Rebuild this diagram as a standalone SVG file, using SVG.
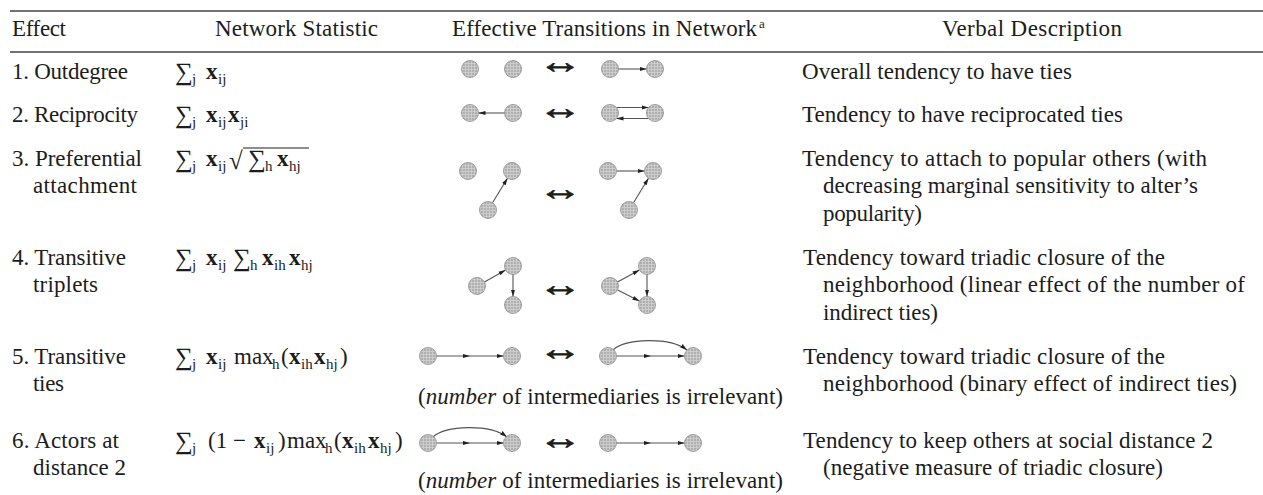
<svg xmlns="http://www.w3.org/2000/svg" width="1263" height="495" viewBox="0 0 1263 495">
<style>
.t{font-family:"Liberation Serif","Times New Roman","DejaVu Serif",serif;font-size:23px;fill:#1c1c1c}
.s{font-size:15px}
.b{font-weight:bold}
.i{font-style:italic}
.sg{font-size:25px}
.sup{font-size:13px}
.arr{font-family:"Liberation Serif","DejaVu Serif",serif;font-size:34px;fill:#1c1c1c;stroke:#1c1c1c;stroke-width:0.7}
.rule{stroke:#444;stroke-width:1.6}
.nd{fill:url(#grid);stroke:#8c8c8c;stroke-width:0.8}
.e{fill:none;stroke:#555;stroke-width:1.1;marker-end:url(#ah)}
.em{fill:none;stroke:#555;stroke-width:1.1;marker-mid:url(#ah);marker-end:url(#ah)}
</style>
<defs>
<pattern id="grid" width="3" height="3" patternUnits="userSpaceOnUse">
<rect width="3" height="3" fill="#b0b0b0"/>
<path d="M0,0.5H3M0.5,0V3" stroke="#d6d6d6" stroke-width="0.7"/>
</pattern>
<marker id="ah" viewBox="0 0 10 10" refX="10" refY="5" markerWidth="7" markerHeight="7" markerUnits="userSpaceOnUse" orient="auto">
<path d="M0,2 L10,5 L0,8 z" fill="#222"/>
</marker>
</defs>
<rect width="1263" height="495" fill="#fff"/>

<g id="rules">
<line class="rule" x1="10" y1="11" x2="1263" y2="11"/>
<line class="rule" x1="10" y1="52" x2="1263" y2="52"/>
</g>

<g id="header">
<text class="t" x="12" y="36" textLength="54" lengthAdjust="spacing">Effect</text>
<text class="t" x="215" y="36" textLength="163" lengthAdjust="spacing">Network Statistic</text>
<text class="t" x="452" y="36" textLength="305" lengthAdjust="spacing">Effective Transitions in Network</text>
<text class="t sup" x="759" y="28">a</text>
<text class="t" x="942" y="36" textLength="180" lengthAdjust="spacing">Verbal Description</text>
</g>

<g id="effects">
<text class="t" x="12" y="79" textLength="116" lengthAdjust="spacing">1. Outdegree</text>
<text class="t" x="12" y="122" textLength="126" lengthAdjust="spacing">2. Reciprocity</text>
<text class="t" x="12" y="166" textLength="130" lengthAdjust="spacing">3. Preferential</text>
<text class="t" x="33" y="193" textLength="104" lengthAdjust="spacing">attachment</text>
<text class="t" x="12" y="265" textLength="114" lengthAdjust="spacing">4. Transitive</text>
<text class="t" x="33" y="292" textLength="65" lengthAdjust="spacing">triplets</text>
<text class="t" x="12" y="364" textLength="114" lengthAdjust="spacing">5. Transitive</text>
<text class="t" x="33" y="391" textLength="31" lengthAdjust="spacing">ties</text>
<text class="t" x="12" y="448" textLength="107" lengthAdjust="spacing">6. Actors at</text>
<text class="t" x="33" y="475" textLength="93" lengthAdjust="spacing">distance 2</text>
</g>

<g id="statistics">
<text class="t"><tspan class="sg" x="175" y="80">∑</tspan><tspan class="s" x="192" y="84">j</tspan><tspan class="b" x="206" y="79">x</tspan><tspan class="s" x="218" y="84">ij</tspan></text>
<text class="t"><tspan class="sg" x="175" y="123">∑</tspan><tspan class="s" x="192" y="127">j</tspan><tspan class="b" x="206" y="122">x</tspan><tspan class="s" x="218" y="127">ij</tspan><tspan class="b" x="228" y="122">x</tspan><tspan class="s" x="240" y="127">ji</tspan></text>
<text class="t"><tspan class="sg" x="175" y="167">∑</tspan><tspan class="s" x="192" y="171">j</tspan><tspan class="b" x="206" y="166">x</tspan><tspan class="s" x="218" y="171">ij</tspan><tspan class="sg" x="229" y="169">√</tspan><tspan class="sg" x="248" y="167">∑</tspan><tspan class="s" x="265" y="171">h</tspan><tspan class="b" x="277" y="166">x</tspan><tspan class="s" x="289" y="171">hj</tspan></text>
<line x1="243" y1="148" x2="309" y2="148" stroke="#1c1c1c" stroke-width="1"/>
<text class="t"><tspan class="sg" x="175" y="266">∑</tspan><tspan class="s" x="192" y="270">j</tspan><tspan class="b" x="206" y="265">x</tspan><tspan class="s" x="218" y="270">ij</tspan><tspan class="sg" x="233" y="266">∑</tspan><tspan class="s" x="250" y="270">h</tspan><tspan class="b" x="262" y="265">x</tspan><tspan class="s" x="274" y="270">ih</tspan><tspan class="b" x="289" y="265">x</tspan><tspan class="s" x="301" y="270">hj</tspan></text>
<text class="t"><tspan class="sg" x="175" y="365">∑</tspan><tspan class="s" x="192" y="369">j</tspan><tspan class="b" x="206" y="364">x</tspan><tspan class="s" x="218" y="369">ij</tspan><tspan x="234" y="364">max</tspan><tspan class="s" x="272" y="369">h</tspan><tspan x="281" y="364">(</tspan><tspan class="b" x="289" y="364">x</tspan><tspan class="s" x="301" y="369">ih</tspan><tspan class="b" x="314" y="364">x</tspan><tspan class="s" x="326" y="369">hj</tspan><tspan x="340" y="364">)</tspan></text>
<text class="t"><tspan class="sg" x="175" y="449">∑</tspan><tspan class="s" x="192" y="453">j</tspan><tspan x="208" y="448">(1</tspan><tspan x="233" y="448">−</tspan><tspan class="b" x="254" y="448">x</tspan><tspan class="s" x="266" y="453">ij</tspan><tspan x="278" y="448">)</tspan><tspan x="287" y="448">max</tspan><tspan class="s" x="325" y="453">h</tspan><tspan x="334" y="448">(</tspan><tspan class="b" x="342" y="448">x</tspan><tspan class="s" x="354" y="453">ih</tspan><tspan class="b" x="368" y="448">x</tspan><tspan class="s" x="380" y="453">hj</tspan><tspan x="395" y="448">)</tspan></text>
</g>

<g id="transition-arrows">
<text class="arr" transform="translate(560,72.5) scale(1.3,1)" text-anchor="middle">↔</text>
<text class="arr" transform="translate(560,118.5) scale(1.3,1)" text-anchor="middle">↔</text>
<text class="arr" transform="translate(560,199.5) scale(1.3,1)" text-anchor="middle">↔</text>
<text class="arr" transform="translate(560,295.5) scale(1.3,1)" text-anchor="middle">↔</text>
<text class="arr" transform="translate(560,359.5) scale(1.3,1)" text-anchor="middle">↔</text>
<text class="arr" transform="translate(560,448.5) scale(1.3,1)" text-anchor="middle">↔</text>
</g>

<g id="notes">
<text class="t" x="418" y="404" textLength="365" lengthAdjust="spacing">(<tspan class="i">number</tspan> of intermediaries is irrelevant)</text>
<text class="t" x="418" y="488" textLength="365" lengthAdjust="spacing">(<tspan class="i">number</tspan> of intermediaries is irrelevant)</text>
</g>

<g id="connectors">
<line class="e" x1="618.5" y1="69" x2="646.5" y2="69"/>
<line class="e" x1="504.5" y1="113" x2="478.5" y2="113"/>
<line class="e" x1="616.5" y1="107.5" x2="648.5" y2="107.5"/>
<line class="e" x1="648.5" y1="118.5" x2="616.5" y2="118.5"/>
<line class="e" x1="492.5" y1="202.8" x2="507.5" y2="178.2"/>
<line class="e" x1="616.5" y1="171" x2="644.5" y2="171"/>
<line class="e" x1="633.5" y1="202.8" x2="648.5" y2="178.2"/>
<line class="e" x1="484.4" y1="281.9" x2="505.6" y2="270.1"/>
<line class="e" x1="513" y1="274.5" x2="513" y2="296.5"/>
<line class="e" x1="617.5" y1="282" x2="639.5" y2="270"/>
<line class="e" x1="647" y1="274.5" x2="647" y2="296.5"/>
<line class="e" x1="617.6" y1="289.9" x2="639.4" y2="301.1"/>
<path class="em" d="M436.5,356 L470,356 L503.5,356"/>
<path class="em" d="M616.5,356 L651,356 L684.5,356"/>
<path class="e" d="M613,350 C626,338 670,337 687,350"/>
<path class="em" d="M436.5,443 L470,443 L503.5,443"/>
<path class="e" d="M433,437 C446,425 490,424 507,437"/>
<path class="em" d="M616.5,443 L651,443 L684.5,443"/>
</g>

<g id="n1a"><circle class="nd" cx="470" cy="69" r="8.5"/></g>
<g id="n1b"><circle class="nd" cx="513" cy="69" r="8.5"/></g>
<g id="n1c"><circle class="nd" cx="610" cy="69" r="8.5"/></g>
<g id="n1d"><circle class="nd" cx="655" cy="69" r="8.5"/></g>
<g id="n2a"><circle class="nd" cx="470" cy="113" r="8.5"/></g>
<g id="n2b"><circle class="nd" cx="513" cy="113" r="8.5"/></g>
<g id="n2c"><circle class="nd" cx="610" cy="113" r="8.5"/></g>
<g id="n2d"><circle class="nd" cx="655" cy="113" r="8.5"/></g>
<g id="n3a"><circle class="nd" cx="468" cy="171" r="8.5"/></g>
<g id="n3b"><circle class="nd" cx="512" cy="171" r="8.5"/></g>
<g id="n3c"><circle class="nd" cx="488" cy="210" r="8.5"/></g>
<g id="n3d"><circle class="nd" cx="608" cy="171" r="8.5"/></g>
<g id="n3e"><circle class="nd" cx="653" cy="171" r="8.5"/></g>
<g id="n3f"><circle class="nd" cx="629" cy="210" r="8.5"/></g>
<g id="n4a"><circle class="nd" cx="477" cy="286" r="8.5"/></g>
<g id="n4b"><circle class="nd" cx="513" cy="266" r="8.5"/></g>
<g id="n4c"><circle class="nd" cx="513" cy="305" r="8.5"/></g>
<g id="n4d"><circle class="nd" cx="610" cy="286" r="8.5"/></g>
<g id="n4e"><circle class="nd" cx="647" cy="266" r="8.5"/></g>
<g id="n4f"><circle class="nd" cx="647" cy="305" r="8.5"/></g>
<g id="n5a"><circle class="nd" cx="428" cy="356" r="8.5"/></g>
<g id="n5b"><circle class="nd" cx="512" cy="356" r="8.5"/></g>
<g id="n5c"><circle class="nd" cx="608" cy="356" r="8.5"/></g>
<g id="n5d"><circle class="nd" cx="693" cy="356" r="8.5"/></g>
<g id="n6a"><circle class="nd" cx="428" cy="443" r="8.5"/></g>
<g id="n6b"><circle class="nd" cx="512" cy="443" r="8.5"/></g>
<g id="n6c"><circle class="nd" cx="608" cy="443" r="8.5"/></g>
<g id="n6d"><circle class="nd" cx="693" cy="443" r="8.5"/></g>

<g id="descriptions">
<text class="t" x="802" y="79" textLength="270" lengthAdjust="spacing">Overall tendency to have ties</text>
<text class="t" x="802" y="122" textLength="321" lengthAdjust="spacing">Tendency to have reciprocated ties</text>
<text class="t" x="802" y="166" textLength="405" lengthAdjust="spacing">Tendency to attach to popular others (with</text>
<text class="t" x="823" y="193" textLength="375" lengthAdjust="spacing">decreasing marginal sensitivity to alter’s</text>
<text class="t" x="823" y="221" textLength="99" lengthAdjust="spacing">popularity)</text>
<text class="t" x="803" y="265" textLength="362" lengthAdjust="spacing">Tendency toward triadic closure of the</text>
<text class="t" x="823" y="292" textLength="422" lengthAdjust="spacing">neighborhood (linear effect of the number of</text>
<text class="t" x="823" y="320" textLength="115" lengthAdjust="spacing">indirect ties)</text>
<text class="t" x="803" y="364" textLength="362" lengthAdjust="spacing">Tendency toward triadic closure of the</text>
<text class="t" x="823" y="391" textLength="414" lengthAdjust="spacing">neighborhood (binary effect of indirect ties)</text>
<text class="t" x="803" y="448" textLength="410" lengthAdjust="spacing">Tendency to keep others at social distance 2</text>
<text class="t" x="823" y="475" textLength="340" lengthAdjust="spacing">(negative measure of triadic closure)</text>
</g>
</svg>
